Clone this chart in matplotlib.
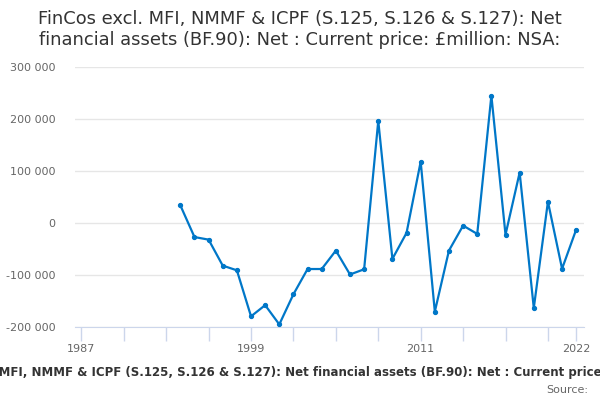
import matplotlib
matplotlib.use("Agg")
import matplotlib.pyplot as plt
from matplotlib.ticker import FuncFormatter, FixedLocator

# Annual net financial assets, £million
years = list(range(1994, 2023))
values = [34000, -27000, -32000, -82000, -91000, -179500, -158000, -195000,
          -137000, -88500, -88500, -53000, -99000, -89000, 196500, -69000,
          -19000, 118000, -170500, -53000, -5000, -21000, 245000, -22500,
          97000, -163500, 41000, -88000, -12500]

title_1 = "FinCos excl. MFI, NMMF & ICPF (S.125, S.126 & S.127): Net"
title_2 = "financial assets (BF.90): Net : Current price: £million: NSA:"
x_label = ("FinCos excl. MFI, NMMF & ICPF (S.125, S.126 & S.127): Net financial "
           "assets (BF.90): Net : Current price: £million: NSA:")
label_years = [1987, 1999, 2011, 2022]
tick_years = list(range(1987, 2021, 3)) + [2022]
y_ticks = [-200000, -100000, 0, 100000, 200000, 300000]

fig = plt.figure(figsize=(6, 4), dpi=100)
ax = fig.add_axes([0.125, 0.1825, 0.8483, 0.65])

ax.plot(years, values, color="#0077c8", linewidth=1.6, marker="o",
        markersize=2.8, zorder=3)

ax.set_xlim(1986.55, 2022.55)
ax.set_ylim(-200000, 300000)
ax.set_yticks(y_ticks)
ax.yaxis.set_major_formatter(FuncFormatter(lambda v, p: f"{int(v):,}".replace(",", " ")))
ax.grid(axis="y", color="#e6e6e6", linewidth=1)
ax.set_axisbelow(True)

ax.xaxis.set_major_locator(FixedLocator(tick_years))
ax.set_xticklabels([str(y) if y in label_years else "" for y in tick_years])

for s in ["top", "right", "left"]:
    ax.spines[s].set_visible(False)
ax.spines["bottom"].set_color("#ccd6eb")
ax.tick_params(axis="x", colors="#ccd6eb", length=10, width=1, labelcolor="#666666",
               labelsize=8, pad=2)
ax.tick_params(axis="y", length=0, labelcolor="#666666", labelsize=8, pad=14)

fig.text(0.5, 0.94, title_1, ha="center", va="baseline", fontsize=12.9,
         color="#333333")
fig.text(0.5, 0.8875, title_2, ha="center", va="baseline", fontsize=12.9,
         color="#333333")
fig.text(0.517, 0.068, x_label, ha="center", va="center", fontsize=8.45,
         fontweight="bold", color="#333333")
fig.text(0.98, 0.025, "Source:", ha="right", va="center", fontsize=8,
         color="#666666")

fig.savefig("out.png", dpi=100)
